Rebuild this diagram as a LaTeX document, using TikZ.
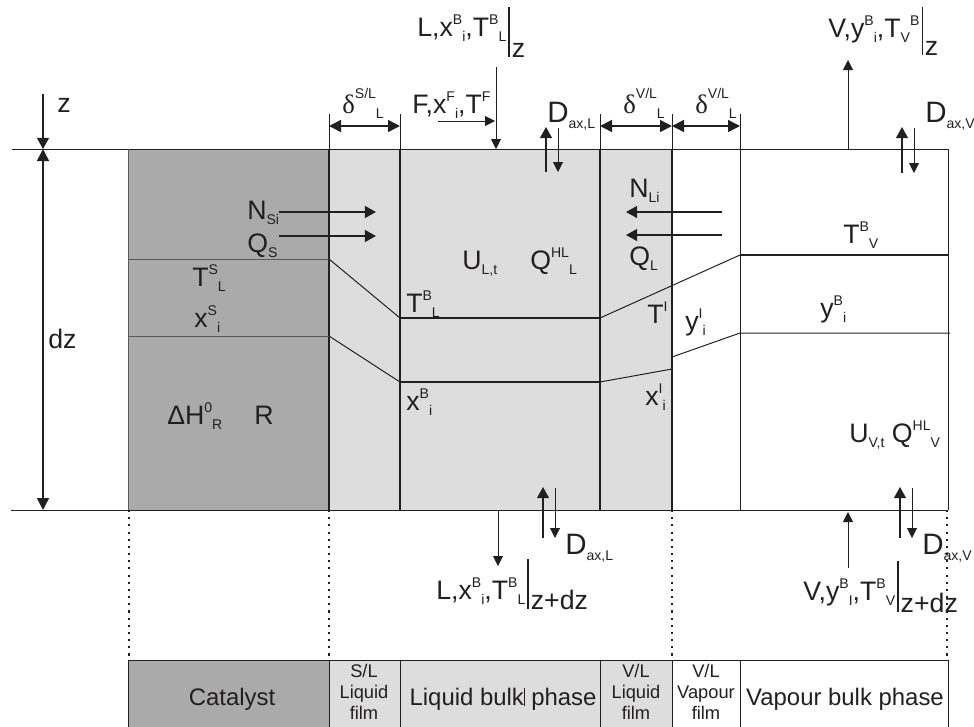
\documentclass[tikz,border=0pt]{standalone}
\usepackage{fontspec}
\setmainfont{Liberation Sans}
\newfontfamily\greekserif{Liberation Serif}
\usepackage{tikz}
\usetikzlibrary{arrows.meta, positioning}
\usepackage{xcolor}
\definecolor{mtcat}{RGB}{170,170,170}
\definecolor{mtfilm}{RGB}{221,221,221}
\definecolor{mtink}{RGB}{35,31,32}
\definecolor{mtrule}{RGB}{90,90,90}
\newcommand{\subfont}{\fontsize{10}{12}\selectfont}
\newcommand{\hi}[1]{\raisebox{0.42em}{\subfont #1}}
\newcommand{\lo}[1]{\raisebox{-0.22em}{\subfont #1}}
\newcommand{\evalat}[3]{\hspace{1.5pt}\rule[-#1]{0.9pt}{#2}\hspace{1.5pt}\raisebox{-#1}{#3}}
\tikzset{
    lbl/.style={anchor=base west, inner sep=0pt, text=mtink, font=\fontsize{19}{22}\selectfont},
    flowlbl/.style={lbl, font=\fontsize{19}{22}\selectfont},
    dlbl/.style={lbl, font=\fontsize{21}{24}\selectfont},
    keytext/.style={anchor=base, inner sep=0pt, text=mtink, font=\fontsize{17}{20}\selectfont},
    keysmall/.style={inner sep=0pt, align=center, text=mtink, font=\fontsize{13}{14.8}\selectfont},
    keybox/.style={draw=mtink, line width=0.7pt},
    wall/.style={draw=mtink, line width=1.4pt},
    fineline/.style={draw=mtink, line width=0.7pt},
    guide/.style={draw=mtink, line width=1.3pt, dash pattern=on 1.5pt off 3.6pt},
    flux/.style={-{Triangle[length=0.28cm, width=0.3cm]}, line width=1.1pt, mtink},
    feed/.style={-{Triangle[length=0.25cm, width=0.25cm]}, line width=0.7pt, mtink},
    dim/.style={{Triangle[length=0.3cm, width=0.3cm]}-{Triangle[length=0.3cm, width=0.3cm]}, line width=1.1pt, mtink},
}

\begin{document}
\begin{tikzpicture}[x=0.025cm, y=-0.025cm]
    \useasboundingbox (0,0) rectangle (974,726);
    \fill[mtcat] (128,149) rectangle (329,510);
    \fill[mtfilm] (329,149) rectangle (672,510);
    \draw[fineline] (12,149) -- (948,149);
    \draw[fineline] (11,510) -- (948,510);
    \draw[fineline, mtrule] (128,149) -- (128,510);
    \foreach \x in {740,948} { \draw[fineline] (\x,149) -- (\x,510); }
    \foreach \x in {329,400,600,672} { \draw[wall] (\x,149) -- (\x,510); }
    % profiles
    \draw[fineline, mtrule] (128,259) -- (329,259);
    \draw[fineline, mtrule] (128,336) -- (329,336);
    \draw[fineline] (329,259) -- (400,318);
    \draw[fineline] (329,336) -- (400,382);
    \draw[wall] (400,318) -- (600,318);
    \draw[wall] (400,382) -- (600,382);
    \draw[fineline] (600,318) -- (740,255);
    \draw[fineline] (600,382) -- (672,369);
    \draw[fineline] (672,357) -- (740,333) -- (950,333);
    \draw[wall] (740,255) -- (948,255);
    % film thicknesses
    \foreach \x in {329,400,600,672,740} { \draw[fineline] (\x,114) -- (\x,149); }
    \foreach \a/\b in {329/400,600/672,672/740} {
        \coordinate (dimA\a) at (\a,126);
        \coordinate (dimB\a) at (\b,126);
        \draw[dim] (dimA\a) -- (dimB\a);
    }
    \node[flowlbl] (dsl) at (342,113) {{\greekserif δ}\raisebox{0.55em}{\subfont S/L}\lo{L}};
    \node[flowlbl] (dvll) at (623,113) {{\greekserif δ}\raisebox{0.55em}{\subfont V/L}\lo{L}};
    \node[flowlbl] (dvlv) at (695,113) {{\greekserif δ}\raisebox{0.55em}{\subfont V/L}\lo{L}};
    % height element
    \coordinate (zA) at (43,94);
    \coordinate (zB) at (43,149);
    \coordinate (dzB) at (43,510);
    \draw[flux] (zA) -- (zB);
    \draw[dim] (zB) -- (dzB);
    \node[lbl] (zlbl) at (57,112) {z};
    \node[lbl] (dzlbl) at (48,348) {dz};
    % fluxes across the films
    \coordinate (nsiA) at (279,212); \coordinate (nsiB) at (376,212);
    \coordinate (qsA) at (279,236);  \coordinate (qsB) at (376,236);
    \coordinate (nliA) at (722,212); \coordinate (nliB) at (626,212);
    \coordinate (qlA) at (722,235);  \coordinate (qlB) at (626,235);
    \foreach \f in {nsi,qs,nli,ql} { \draw[flux] (\f A) -- (\f B); }
    % streams
    \coordinate (fA) at (438,121);   \coordinate (fB) at (495,121);
    \coordinate (lzA) at (496,67);   \coordinate (lzB) at (496,149);
    \coordinate (ldzA) at (498,510); \coordinate (ldzB) at (498,566);
    \coordinate (vzA) at (848,149);  \coordinate (vzB) at (848,60);
    \coordinate (vdzA) at (848,568); \coordinate (vdzB) at (848,512);
    \foreach \s in {f,lz,ldz,vz,vdz} { \draw[feed] (\s A) -- (\s B); }
    \foreach \n/\x/\y/\l in {dtl/546/127/45, dtv/902/127/46, dbl/543/487/51, dbv/900/487/51} {
        \coordinate (\n a) at (\x,\y+\l);
        \coordinate (\n b) at (\x,\y);
        \coordinate (\n c) at (\x+12,\y+1);
        \coordinate (\n d) at (\x+12,\y+\l);
        \draw[flux] (\n a) -- (\n b);
        \draw[feed] (\n c) -- (\n d);
    }
    \node[flowlbl] (ltop) at (417,36) {L,x\hi{B}\lo{i},T\hi{B}\lo{L}\evalat{0.525cm}{1.25cm}{z}};
    \node[flowlbl] (vtop) at (828,37) {V,y\hi{B}\lo{i},T\lo{V}\hi{B}\evalat{0.45cm}{1.2cm}{z}};
    \node[flowlbl] (ftop) at (412,113) {F,x\hi{F}\lo{i},T\hi{F}};
    \node[flowlbl] (lbot) at (436,599) {L,x\hi{B}\lo{i},T\hi{B}\lo{L}\evalat{0.25cm}{1.25cm}{z+dz}};
    \node[flowlbl] (vbot) at (803,600) {V,y\hi{B}\lo{I},T\hi{B}\lo{V}\evalat{0.3cm}{1.27cm}{z+dz}};
    \node[dlbl] (daxtl) at (547,122) {D\lo{ax,L}};
    \node[dlbl] (daxtv) at (925,122) {D\lo{ax,V}};
    \node[dlbl] (daxbl) at (565,554) {D\lo{ax,L}};
    \node[dlbl] (daxbv) at (922,554) {D\lo{ax,V}};
    % state variables
    \node[lbl] (nsi) at (247,219) {N\lo{Si}};
    \node[lbl] (qs) at (247,252) {Q\lo{S}};
    \node[lbl] (nli) at (629,197) {N\lo{Li}};
    \node[lbl] (ql) at (629,265) {Q\lo{L}};
    \node[lbl] (ult) at (462,269) {U\lo{L,t}};
    \node[lbl] (qhll) at (530,269) {Q\hi{HL}\lo{L}};
    \node[lbl] (tsl) at (192,286) {T\hi{S}\lo{L}};
    \node[lbl] (xsi) at (194,327) {x\hi{S}\lo{i}};
    \node[lbl] (dhr) at (167,424) {ΔH\hi{0}\lo{R}};
    \node[lbl] (rate) at (254,424) {R};
    \node[lbl] (tbl) at (406,312) {T\hi{B}\lo{L}};
    \node[lbl] (xbi) at (406,410) {x\hi{B}\lo{i}};
    \node[lbl] (tint) at (647,323) {T\hi{I}};
    \node[lbl] (yint) at (685,330) {y\hi{I}\lo{i}};
    \node[lbl] (xint) at (645,405) {x\hi{I}\lo{i}};
    \node[lbl] (tbv) at (843,243) {T\hi{B}\lo{V}};
    \node[lbl] (ybi) at (820,317) {y\hi{B}\lo{i}};
    \node[lbl] (uvt) at (849,442) {U\lo{V,t} Q\hi{HL}\lo{V}};
    % phase key
    \foreach \x in {129,329,672,947} { \draw[guide] (\x,510) -- (\x,660); }
    \foreach \a/\b/\c in {128/329/mtcat, 329/400/mtfilm, 400/600/mtfilm, 600/672/mtfilm, 672/740/white, 740/948/white} {
        \draw[keybox, fill=\c] (\a,660) rectangle (\b,740);
    }
    \node[keytext] (kcat) at (232,705) {Catalyst};
    \node[keysmall] (ksl) at (364,692) {S/L\\Liquid\\film};
    \node[keytext] (kliq) at (503,705) {Liquid bulk\rule[-0.05em]{0.5pt}{0.78em} phase};
    \node[keysmall] (kvll) at (636,692) {V/L\\Liquid\\film};
    \node[keysmall] (kvlv) at (706,692) {V/L\\Vapour\\film};
    \node[keytext] (kvap) at (845,705) {Vapour bulk phase};
\end{tikzpicture}
\end{document}
